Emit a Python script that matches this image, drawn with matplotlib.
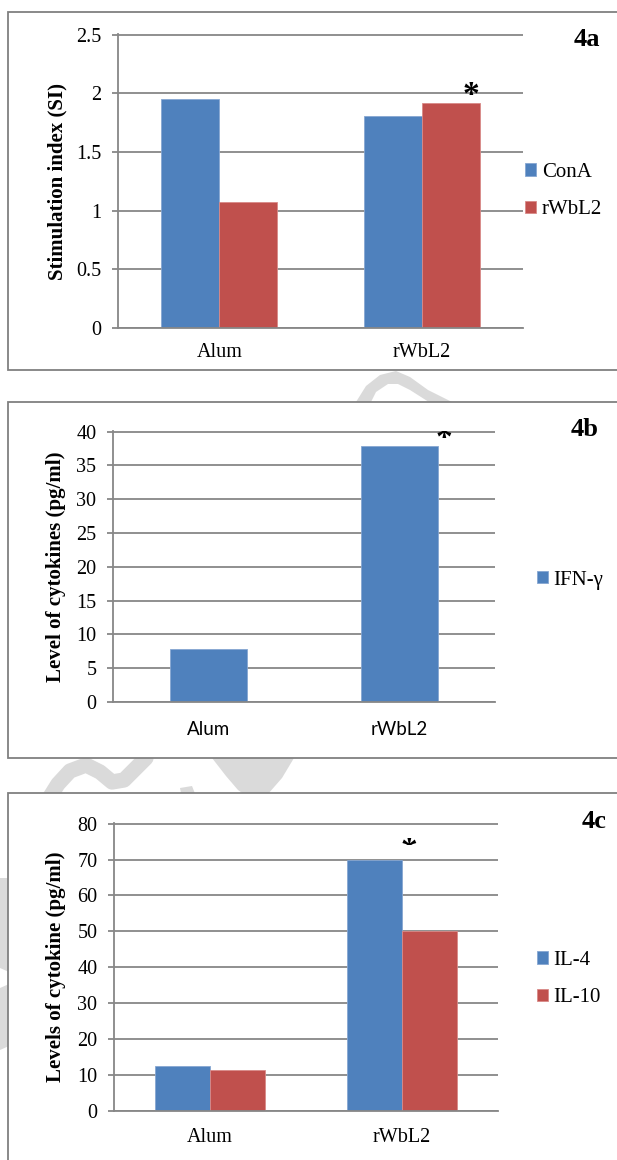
import matplotlib
matplotlib.use('Agg')
import matplotlib.pyplot as plt
from matplotlib.patches import Rectangle, Polygon
from matplotlib.transforms import Bbox, TransformedBbox

W, H = 617, 1160
SERIF = 'Liberation Serif'
SANS = 'Lato'
BLUE = '#4F81BD'
RED = '#C0504D'
GRID = '#878787'
WMARK = '#dadada'

groups = ['Alum', 'rWbL2']

# 4a - stimulation index
si_cona = [1.95, 1.81]
si_rwbl2 = [1.07, 1.92]
si_ticks = [0, 0.5, 1, 1.5, 2, 2.5]
si_ticklabels = ['0', '0.5', '1', '1.5', '2', '2.5']

# 4b - IFN-gamma
ifn_gamma = [7.8, 37.8]
ifn_ticks = [0, 5, 10, 15, 20, 25, 30, 35, 40]

# 4c - IL-4 / IL-10
il4 = [12.6, 70.0]
il10 = [11.5, 50.0]
il_ticks = [0, 10, 20, 30, 40, 50, 60, 70, 80]

fig = plt.figure(figsize=(W / 100, H / 100), dpi=100)

# background: watermark + panel boxes, in pixel coords
bg = fig.add_axes([0, 0, 1, 1], zorder=-1)
bg.set_xlim(0, W)
bg.set_ylim(H, 0)
bg.axis('off')

wm_shapes = [
    [(356, 402), (366, 386), (380, 375), (396, 371), (410, 377), (428, 390), (456, 404),
     (432, 404), (410, 390), (398, 384), (388, 384), (376, 392), (370, 404)],
    [(212, 758), (294, 758), (282, 778), (268, 794), (252, 800), (238, 790), (226, 776)],
    [(180, 788), (192, 786), (196, 796), (182, 798)],
    [(0, 878), (9, 878), (9, 972), (0, 968)],
    [(0, 988), (9, 984), (9, 1046), (0, 1050)],
]
for pts in wm_shapes:
    bg.add_patch(Polygon(pts, closed=True, facecolor=WMARK, edgecolor='none', zorder=1))
bg.plot([48, 58, 70, 86, 100, 112, 124, 136, 146], [800, 784, 771, 765, 772, 782, 780, 768, 758],
        color=WMARK, lw=11, solid_capstyle='round', zorder=1)

for top, bottom in [(12, 370), (402, 758), (793, 1200)]:
    bg.add_patch(Rectangle((8, top), 640, bottom - top, facecolor='white',
                           edgecolor='#808080', lw=1.3, zorder=2))


def px_axes(x0, y0, x1, y1):
    return fig.add_axes([x0 / W, 1 - y1 / H, (x1 - x0) / W, (y1 - y0) / H])


def style(ax, ticks, ticklabels, ylabel, label_x, xfont, xpad):
    ax.set_facecolor('none')
    ax.set_xlim(-0.5, 1.5)
    ax.set_ylim(0, ticks[-1] * 1.002)
    ax.set_yticks(ticks)
    ax.set_yticklabels(ticklabels, fontsize=14.5, family=SERIF)
    ax.set_xticks([0, 1])
    ax.set_xticklabels(groups, fontsize=14.5 if xfont == SERIF else 13.5, family=xfont)
    for s in ['top', 'right']:
        ax.spines[s].set_visible(False)
    for s in ['left', 'bottom']:
        ax.spines[s].set_color(GRID)
        ax.spines[s].set_linewidth(1.3)
    ax.yaxis.grid(True, color=GRID, lw=1.3)
    ax.set_axisbelow(True)
    ax.tick_params(axis='y', length=4, width=1.3, color=GRID, pad=8)
    ax.tick_params(axis='x', length=0, pad=xpad)
    ax.set_ylabel(ylabel, fontsize=15, fontweight='bold', family=SERIF, va='center')
    ax.yaxis.set_label_coords(label_x, 0.5)


def legend(ax, yc, x0):
    ax.legend(loc='center left', bbox_to_anchor=(x0 / W, 1 - yc / H),
              bbox_transform=fig.transFigure, frameon=False,
              prop=dict(family=SERIF, size=15), handlelength=0.55, handleheight=0.55,
              handletextpad=0.25, labelspacing=0.9, borderpad=0, borderaxespad=0)


star = dict(ha='center', va='center', fontsize=24, fontweight='bold', family=SERIF)

# ---- 4a ----
ax1 = px_axes(118, 34, 523, 328)
w = 0.286
ax1.bar([i - w / 2 for i in range(2)], si_cona, w, color=BLUE, edgecolor='#86a6d2', lw=0.6, label='ConA')
ax1.bar([i + w / 2 for i in range(2)], si_rwbl2, w, color=RED, edgecolor='#d98a88', lw=0.6, label='rWbL2')
style(ax1, si_ticks, si_ticklabels, 'Stimulation index (SI)', (57 - 118) / 405, SERIF, 11)
legend(ax1, 191, 525)
ax1.text(1 + w * 0.85, si_rwbl2[1] + 0.06, '*', **star)
fig.text(587 / W, 1 - 40 / H, '4a', ha='center', va='center', fontsize=19, fontweight='bold', family=SERIF)

# ---- 4b ----
ax2 = px_axes(113, 431, 495, 702)
w = 0.40
ax2.bar(range(2), ifn_gamma, w, color=BLUE, edgecolor='#86a6d2', lw=0.6, label='IFN-γ')
style(ax2, ifn_ticks, [str(t) for t in ifn_ticks], 'Level of cytokines (pg/ml)', (56 - 113) / 382, SANS, 14)
legend(ax2, 580, 537)
ax2.text(1 + w * 0.58, 39.0, '*', clip_on=True, **star)
fig.text(585 / W, 1 - 430 / H, '4b', ha='center', va='center', fontsize=19, fontweight='bold', family=SERIF)

# ---- 4c ----
ax3 = px_axes(114, 823, 498, 1111)
w = 0.284
ax3.bar([i - w / 2 for i in range(2)], il4, w, color=BLUE, edgecolor='#86a6d2', lw=0.6, label='IL-4')
ax3.bar([i + w / 2 for i in range(2)], il10, w, color=RED, edgecolor='#d98a88', lw=0.6, label='IL-10')
style(ax3, il_ticks, [str(t) for t in il_ticks], 'Levels of cytokine (pg/ml)', (56 - 114) / 384, SERIF, 12)
legend(ax3, 979, 537)
t = ax3.text(1 + 0.035, 72.2, '*', clip_on=True, **star)
t.set_clip_box(TransformedBbox(Bbox([[0.5, 73.9], [1.5, 85]]), ax3.transData))
fig.text(594 / W, 1 - 822 / H, '4c', ha='center', va='center', fontsize=19, fontweight='bold', family=SERIF)

fig.savefig('out.png', dpi=100)
